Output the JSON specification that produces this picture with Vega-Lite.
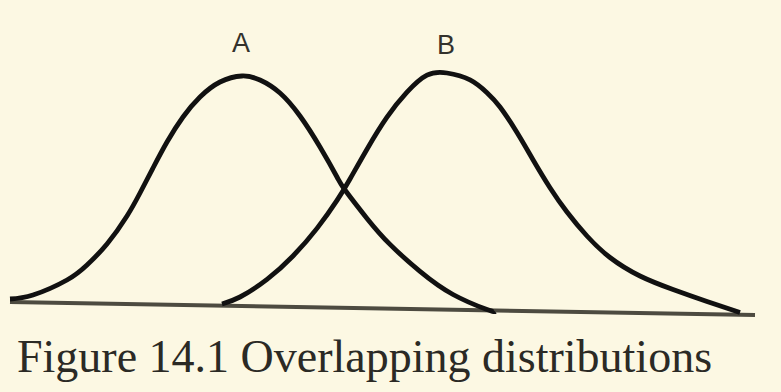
{
  "$schema": "https://vega.github.io/schema/vega-lite/v6.json",
  "width": 781,
  "height": 392,
  "padding": 0,
  "autosize": {"type": "none"},
  "background": "#fcf8e3",
  "config": {"view": {"stroke": null}},
  "datasets": {
    "curves": [
      {"curve": "A", "x": 10, "y": 93},
      {"curve": "A", "x": 33, "y": 97},
      {"curve": "A", "x": 67, "y": 112},
      {"curve": "A", "x": 87, "y": 127},
      {"curve": "A", "x": 107, "y": 148},
      {"curve": "A", "x": 127, "y": 176},
      {"curve": "A", "x": 140, "y": 199},
      {"curve": "A", "x": 153, "y": 224},
      {"curve": "A", "x": 167, "y": 250},
      {"curve": "A", "x": 183, "y": 275},
      {"curve": "A", "x": 200, "y": 295},
      {"curve": "A", "x": 220, "y": 310},
      {"curve": "A", "x": 242, "y": 316},
      {"curve": "A", "x": 260, "y": 312},
      {"curve": "A", "x": 280, "y": 299},
      {"curve": "A", "x": 300, "y": 276},
      {"curve": "A", "x": 320, "y": 245},
      {"curve": "A", "x": 337, "y": 215},
      {"curve": "A", "x": 345, "y": 202},
      {"curve": "A", "x": 367, "y": 173.6},
      {"curve": "A", "x": 390, "y": 147.6},
      {"curve": "A", "x": 420, "y": 120.6},
      {"curve": "A", "x": 453, "y": 97.5},
      {"curve": "A", "x": 487, "y": 82.5},
      {"curve": "A", "x": 495, "y": 80.5},
      {"curve": "B", "x": 222, "y": 88},
      {"curve": "B", "x": 240, "y": 95},
      {"curve": "B", "x": 267, "y": 112.6},
      {"curve": "B", "x": 293, "y": 136},
      {"curve": "B", "x": 317, "y": 163.6},
      {"curve": "B", "x": 337, "y": 191.6},
      {"curve": "B", "x": 350, "y": 213},
      {"curve": "B", "x": 367, "y": 242.8},
      {"curve": "B", "x": 387, "y": 274.8},
      {"curve": "B", "x": 407, "y": 299.8},
      {"curve": "B", "x": 427, "y": 316.8},
      {"curve": "B", "x": 447, "y": 319},
      {"curve": "B", "x": 470, "y": 312.1},
      {"curve": "B", "x": 487, "y": 299.3},
      {"curve": "B", "x": 500, "y": 285},
      {"curve": "B", "x": 517, "y": 259.5},
      {"curve": "B", "x": 533, "y": 232.3},
      {"curve": "B", "x": 550, "y": 204.3},
      {"curve": "B", "x": 567, "y": 180},
      {"curve": "B", "x": 587, "y": 156},
      {"curve": "B", "x": 610, "y": 134.5},
      {"curve": "B", "x": 640, "y": 116},
      {"curve": "B", "x": 673, "y": 102.5},
      {"curve": "B", "x": 707, "y": 90.5},
      {"curve": "B", "x": 740, "y": 79.5}
    ],
    "baseline": [
      {"x": 10, "y": 90},
      {"x": 755, "y": 77}
    ],
    "labels": [
      {"x": 241, "y": 348, "label": "A"},
      {"x": 446, "y": 346, "label": "B"}
    ],
    "caption": [
      {"x": 17, "y": 20, "label": "Figure 14.1 Overlapping distributions"}
    ]
  },
  "layer": [
    {
      "data": {"name": "baseline"},
      "mark": {"type": "line", "color": "#4d4b40", "strokeWidth": 4},
      "encoding": {
        "x": {"field": "x", "type": "quantitative", "scale": {"domain": [0, 781]}, "axis": null},
        "y": {"field": "y", "type": "quantitative", "scale": {"domain": [0, 392]}, "axis": null}
      }
    },
    {
      "data": {"name": "curves"},
      "mark": {"type": "line", "color": "#111111", "strokeWidth": 4.8, "interpolate": "natural"},
      "encoding": {
        "x": {"field": "x", "type": "quantitative", "scale": {"domain": [0, 781]}, "axis": null},
        "y": {"field": "y", "type": "quantitative", "scale": {"domain": [0, 392]}, "axis": null},
        "detail": {"field": "curve"}
      }
    },
    {
      "data": {"name": "labels"},
      "mark": {"type": "text", "font": "Liberation Sans", "fontSize": 27, "color": "#33322c", "align": "center", "baseline": "middle"},
      "encoding": {
        "x": {"field": "x", "type": "quantitative", "scale": {"domain": [0, 781]}, "axis": null},
        "y": {"field": "y", "type": "quantitative", "scale": {"domain": [0, 392]}, "axis": null},
        "text": {"field": "label"}
      }
    },
    {
      "data": {"name": "caption"},
      "mark": {"type": "text", "font": "Liberation Serif", "fontSize": 46, "color": "#2b2a25", "align": "left", "baseline": "alphabetic"},
      "encoding": {
        "x": {"field": "x", "type": "quantitative", "scale": {"domain": [0, 781]}, "axis": null},
        "y": {"field": "y", "type": "quantitative", "scale": {"domain": [0, 392]}, "axis": null},
        "text": {"field": "label"}
      }
    }
  ]
}
